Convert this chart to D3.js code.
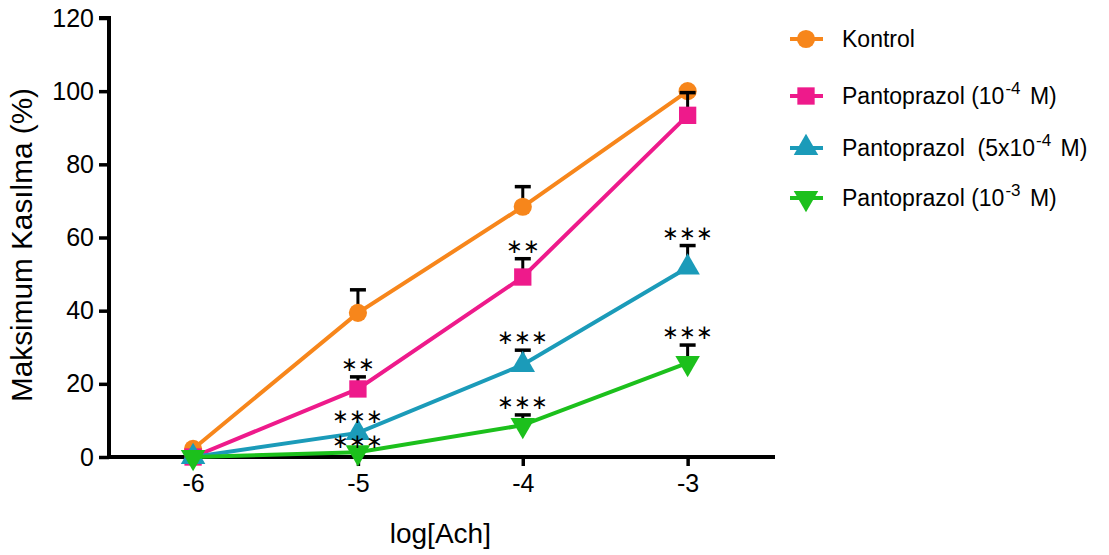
<!DOCTYPE html>
<html><head><meta charset="utf-8">
<script src="https://cdn.jsdelivr.net/npm/d3@7"></script>
<style>body{margin:0;background:#fff}svg{display:block}text{font-family:"Liberation Sans",Arial,sans-serif}</style>
</head><body>
<svg id="c" width="1109" height="555"></svg>
<script>
const xValues = [-6, -5, -4, -3];
const seriesNames = ["Kontrol", "Pantoprazol (10-4 M)", "Pantoprazol (5x10-4 M)", "Pantoprazol (10-3 M)"];
const kontrol = [2.2, 39.4, 68.4, 100];
const kontrolErr = [0, 6.3, 5.5, 0];
const panto1 = [0, 18.6, 49.2, 93.4];
const panto1Err = [0, 3.3, 5, 6.2];
const panto5 = [0, 6.6, 25.2, 51.8];
const panto5Err = [0, 0, 4, 6];
const panto10 = [0, 1.3, 8.7, 25.7];
const panto10Err = [0, 0, 2.8, 4.9];
const stars1 = ["", "**", "**", ""];
const stars5 = ["", "***", "***", "***"];
const stars10 = ["", "***", "***", "***"];
const yTicks = [0, 20, 40, 60, 80, 100, 120];

const colors = ["#f7861b", "#ee1a8b", "#1b9bb9", "#1cc01c"];
const shapes = [d3.symbolCircle, d3.symbolSquare, d3.symbolTriangle, "down"];
const series = [
  {name: seriesNames[0], v: kontrol, e: kontrolErr, s: ["", "", "", ""]},
  {name: seriesNames[1], v: panto1, e: panto1Err, s: stars1},
  {name: seriesNames[2], v: panto5, e: panto5Err, s: stars5},
  {name: seriesNames[3], v: panto10, e: panto10Err, s: stars10}
];

const svg = d3.select("#c");
const x = d3.scaleLinear().domain([-6.51, -2.47]).range([109, 775]);
const y = d3.scaleLinear().domain([0, 120]).range([457, 18]);

function symbolPath(i, size) {
  if (shapes[i] === "down") return d3.symbol(d3.symbolTriangle, size)();
  return d3.symbol(shapes[i], size)();
}
function symTransform(i, px, py) {
  return shapes[i] === "down" ? `translate(${px},${py}) rotate(180)` : `translate(${px},${py})`;
}
const sizes = [260, 300, 260, 260];

// axes
const yAxis = svg.append("g").attr("transform", "translate(109,0)")
  .call(d3.axisLeft(y).tickValues(yTicks).tickSize(10).tickPadding(5).tickFormat(d3.format("d")));
const xAxis = svg.append("g").attr("transform", "translate(0,457)")
  .call(d3.axisBottom(x).tickValues(xValues).tickSize(9).tickPadding(8).tickFormat(d => d < 0 ? "-" + Math.abs(d) : d));
[yAxis, xAxis].forEach(a => {
  a.select(".domain").attr("stroke", "#000").attr("stroke-width", 4);
  a.selectAll(".tick line").attr("stroke", "#000").attr("stroke-width", 3.5);
  a.selectAll(".tick text").attr("font-size", 25).attr("fill", "#000");
});
yAxis.select(".domain").attr("d", `M-10,${y(120)}H0V${y(0)+2}`);
xAxis.select(".domain").attr("d", `M${109-2},0H775`);

svg.append("text").attr("transform", `translate(32,245) rotate(-90)`)
  .attr("text-anchor", "middle").attr("font-size", 29)
  .attr("textLength", 314).attr("lengthAdjust", "spacingAndGlyphs").text("Maksimum Kasılma (%)");
svg.append("text").attr("x", x(-4.5)).attr("y", 543).attr("text-anchor", "middle")
  .attr("font-size", 28).text("log[Ach]");

const line = d3.line().x((d, i) => x(xValues[i])).y(d => y(d));

series.forEach((s, k) => {
  const g = svg.append("g");
  s.v.forEach((v, i) => {
    if (s.e[i] > 0) {
      const px = x(xValues[i]);
      g.append("line").attr("x1", px).attr("x2", px).attr("y1", y(v)).attr("y2", y(v + s.e[i]))
        .attr("stroke", "#000").attr("stroke-width", 3);
      g.append("line").attr("x1", px - 8).attr("x2", px + 8).attr("y1", y(v + s.e[i])).attr("y2", y(v + s.e[i]))
        .attr("stroke", "#000").attr("stroke-width", 3.5);
    }
  });
  g.append("path").attr("d", line(s.v)).attr("fill", "none").attr("stroke", colors[k]).attr("stroke-width", 4);
  s.v.forEach((v, i) => {
    g.append("path").attr("d", symbolPath(k, sizes[k]))
      .attr("transform", symTransform(k, x(xValues[i]), y(v))).attr("fill", colors[k]);
  });
});
// stars
series.forEach((s, k) => {
  s.s.forEach((t, i) => {
    if (!t) return;
    const top = y(s.v[i] + s.e[i]);
    const off = s.e[i] > 0 ? 13 : (k === 2 ? 17 : 11);
    svg.append("text").attr("x", x(xValues[i])).attr("y", top - off).attr("text-anchor", "middle")
      .attr("dominant-baseline", "central")
      .attr("font-family", "DejaVu Sans").attr("font-size", 20).text(t.replace(/\*/g, "\u2217"));
  });
});

// legend
const legY = [39, 96, 148, 198];
const legLabels = [
  [["Kontrol", false]],
  [["Pantoprazol (10", false], ["-4", true], [" M)", false]],
  [["Pantoprazol  (5x10", false], ["-4", true], [" M)", false]],
  [["Pantoprazol (10", false], ["-3", true], [" M)", false]]
];
legY.forEach((ly, k) => {
  svg.append("line").attr("x1", 790).attr("x2", 823).attr("y1", ly).attr("y2", ly)
    .attr("stroke", colors[k]).attr("stroke-width", 4);
  svg.append("path").attr("d", symbolPath(k, sizes[k])).attr("transform", symTransform(k, 806, ly)).attr("fill", colors[k]);
  const t = svg.append("text").attr("x", 842).attr("y", ly + 8).attr("font-size", 23).attr("fill", "#000")
    .attr("xml:space", "preserve").style("white-space", "pre");
  legLabels[k].forEach(([str, sup]) => {
    const ts = t.append("tspan").text(str);
    if (sup) ts.attr("font-size", 17).attr("dy", -10).attr("dx", 1);
    else if (str.startsWith(" ")) ts.attr("dy", 10).attr("dx", 3);
  });
});
</script>
</body></html>
